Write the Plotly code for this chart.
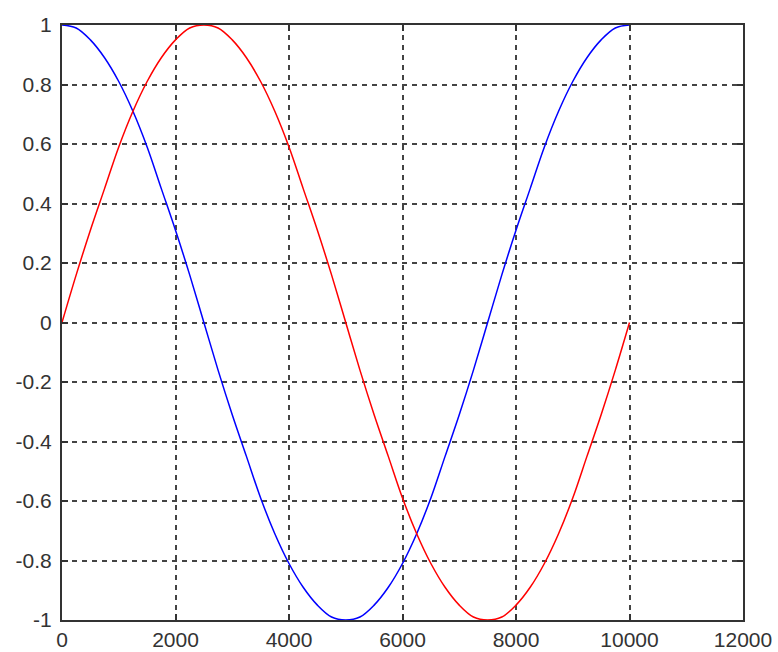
import plotly.graph_objects as go

# Sample positions along the horizontal axis
x_vals = [0, 250, 500, 750, 1000, 1250, 1500, 1750, 2000, 2250, 2500,
          2750, 3000, 3250, 3500, 3750, 4000, 4250, 4500, 4750, 5000,
          5250, 5500, 5750, 6000, 6250, 6500, 6750, 7000, 7250, 7500,
          7750, 8000, 8250, 8500, 8750, 9000, 9250, 9500, 9750, 10000]

# Red curve (starts at 0, peaks near 2500, trough near 7500)
red_vals = [0.00, 0.16, 0.31, 0.45, 0.59, 0.71, 0.81, 0.89, 0.95, 0.99, 1.00,
            0.99, 0.95, 0.89, 0.81, 0.71, 0.59, 0.45, 0.31, 0.16, 0.00,
            -0.16, -0.31, -0.45, -0.59, -0.71, -0.81, -0.89, -0.95, -0.99, -1.00,
            -0.99, -0.95, -0.89, -0.81, -0.71, -0.59, -0.45, -0.31, -0.16, 0.00]

# Blue curve (starts at 1, trough near 5000, back to 1 at 10000)
blue_vals = [1.00, 0.99, 0.95, 0.89, 0.81, 0.71, 0.59, 0.45, 0.31, 0.16, 0.00,
             -0.16, -0.31, -0.45, -0.59, -0.71, -0.81, -0.89, -0.95, -0.99, -1.00,
             -0.99, -0.95, -0.89, -0.81, -0.71, -0.59, -0.45, -0.31, -0.16, 0.00,
             0.16, 0.31, 0.45, 0.59, 0.71, 0.81, 0.89, 0.95, 0.99, 1.00]

x_ticks = [0, 2000, 4000, 6000, 8000, 10000, 12000]
x_tick_text = ["0", "2000", "4000", "6000", "8000", "10000", "12000"]
y_ticks = [-1, -0.8, -0.6, -0.4, -0.2, 0, 0.2, 0.4, 0.6, 0.8, 1]
y_tick_text = ["-1", "-0.8", "-0.6", "-0.4", "-0.2", "0", "0.2", "0.4", "0.6", "0.8", "1"]

fig = go.Figure()
fig.add_trace(go.Scatter(x=x_vals, y=blue_vals, mode="lines",
                         line=dict(color="#0000ff", width=1.5, shape="spline")))
fig.add_trace(go.Scatter(x=x_vals, y=red_vals, mode="lines",
                         line=dict(color="#ff0000", width=1.5, shape="spline")))

axis_common = dict(
    showline=True, linecolor="#333333", linewidth=2, mirror="ticks",
    ticks="inside", ticklen=6, tickcolor="#333333", tickwidth=2,
    showgrid=True, gridcolor="#444444", gridwidth=2, griddash="5px,5px",
    zeroline=False, automargin=False,
    tickfont=dict(family="Liberation Sans, Arial", size=21, color="#333333"),
)

fig.update_layout(
    width=778, height=652,
    margin=dict(l=62, r=35, t=25, b=32),
    paper_bgcolor="white", plot_bgcolor="white",
    showlegend=False,
    xaxis=dict(range=[0, 12000], tickvals=x_ticks, ticktext=x_tick_text,
               ticklabelstandoff=0, **axis_common),
    yaxis=dict(range=[-1, 1], tickvals=y_ticks, ticktext=y_tick_text,
               ticklabelstandoff=4, **axis_common),
)

fig.write_html("out.html")
